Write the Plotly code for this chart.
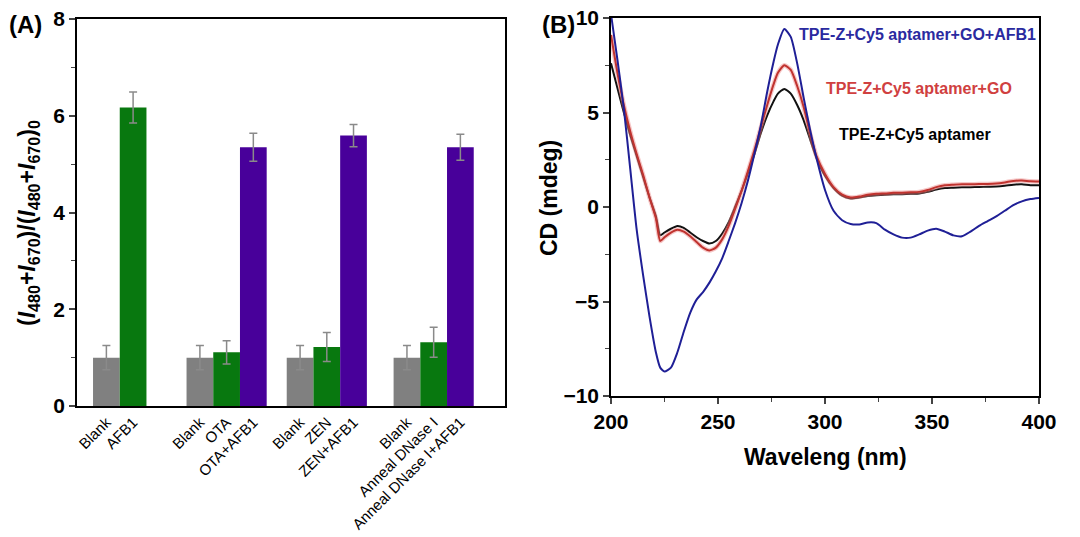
import plotly.graph_objects as go

# ---- panel A data: fluorescence ratio per sample ----
blank_labels = ["Blank", "Blank", "Blank", "Blank"]
blank_vals = [1.0, 1.0, 1.0, 1.0]
blank_err = [0.25, 0.25, 0.25, 0.25]

single_labels = ["AFB1", "OTA", "ZEN", "Anneal DNase I"]
single_vals = [6.17, 1.11, 1.22, 1.32]
single_err = [0.32, 0.24, 0.30, 0.31]

combo_labels = ["OTA+AFB1", "ZEN+AFB1", "Anneal DNase I+AFB1"]
combo_vals = [5.35, 5.59, 5.35]
combo_err = [0.29, 0.23, 0.27]

ratio_ticks = [0, 2, 4, 6, 8]

# ---- panel B data: CD spectra ----
wavelength = [200, 203, 206, 209, 212, 215, 218, 221, 223, 225, 228, 231, 234, 237,
              240, 243, 246, 249, 252, 255, 258, 261, 264, 267, 270, 273, 276, 278,
              281, 284, 287, 290, 293, 296, 300, 304, 308, 312, 316, 320, 324, 328,
              332, 336, 340, 344, 348, 352, 356, 360, 364, 368, 372, 376, 380, 384,
              388, 392, 396, 400]
cd_aptamer = [7.6, 6.3, 5.0, 3.8, 2.7, 1.6, 0.5, -0.5, -1.5, -1.35, -1.15, -1.0, -1.1, -1.35,
              -1.6, -1.8, -1.93, -1.8, -1.4, -0.8, 0.0, 0.85, 1.8, 2.8, 3.9, 4.85, 5.6, 6.0,
              6.25, 6.0, 5.4, 4.6, 3.6, 2.6, 1.65, 1.0, 0.6, 0.45, 0.5, 0.58, 0.62, 0.65,
              0.67, 0.68, 0.7, 0.72, 0.8, 0.92, 1.0, 1.02, 1.04, 1.05, 1.06, 1.07, 1.08, 1.12,
              1.18, 1.2, 1.15, 1.15]
cd_aptamer_go = [9.1, 7.1, 5.4, 4.0, 2.8, 1.7, 0.5, -0.6, -1.8, -1.6, -1.35, -1.2, -1.3, -1.55,
                 -1.85, -2.15, -2.3, -2.15, -1.7, -1.0, -0.1, 0.85, 1.9, 3.0, 4.2, 5.4, 6.5, 7.1,
                 7.5, 7.25, 6.4, 5.3, 3.9, 2.7, 1.75, 1.05, 0.65, 0.5, 0.55, 0.65, 0.7, 0.72,
                 0.75, 0.76, 0.78, 0.8, 0.9, 1.05, 1.15, 1.18, 1.2, 1.2, 1.22, 1.22, 1.24, 1.3,
                 1.38, 1.4, 1.36, 1.35]
cd_aptamer_go_afb1 = [10.2, 7.8, 5.2, 2.0, -1.2, -3.6, -5.8, -7.7, -8.5, -8.7, -8.5, -7.7, -6.6, -5.6,
                      -4.9, -4.5, -4.0, -3.4, -2.7, -1.8, -0.85, 0.2, 1.4, 2.8, 4.3, 6.1, 7.7, 8.6,
                      9.42, 9.0, 7.6, 5.8, 4.1, 2.6, 0.9, -0.2, -0.7, -0.9, -0.92, -0.82, -0.85, -1.2,
                      -1.45, -1.62, -1.62, -1.45, -1.25, -1.15, -1.3, -1.5, -1.55, -1.3, -1.0, -0.75, -0.5, -0.2,
                      0.1, 0.3, 0.42, 0.48]

# bar slots on the category axis (groups are spaced unevenly in the original)
blank_pos = [0, 3.5, 7.25, 11.25]
single_pos = [1, 4.5, 8.25, 12.25]
combo_pos = [5.5, 9.25, 13.25]

# the page body has an 8px margin, so the figure is drawn 8px in from the window corner
OFF = 8
W, H = 1080 - OFF, 537 - OFF


def px_x(x):
    return (x - OFF) / W


def px_y(y):
    return 1 - (y - OFF) / H


FONT = "Arial, Liberation Sans, sans-serif"
ERR = dict(type="data", visible=True, color="#8a8a8a", thickness=1.5, width=4)

fig = go.Figure()
for pos, vals, err, color in [
    (blank_pos, blank_vals, blank_err, "#808080"),
    (single_pos, single_vals, single_err, "#08780f"),
    (combo_pos, combo_vals, combo_err, "#48009a"),
]:
    fig.add_trace(go.Bar(x=pos, y=vals, width=1.0, marker_color=color, marker_line_width=0,
                         error_y=dict(array=err, **ERR), xaxis="x", yaxis="y", showlegend=False))

for vals, color, width in [
    (cd_aptamer, "#111111", 2),
    (cd_aptamer_go, "rgba(235,130,130,0.45)", 4.5),   # soft halo under the red curve
    (cd_aptamer_go, "#c0332f", 2),
    (cd_aptamer_go_afb1, "#1f1f96", 2),
]:
    fig.add_trace(go.Scatter(x=wavelength, y=vals, mode="lines", xaxis="x2", yaxis="y2",
                             line=dict(color=color, width=width, shape="spline", smoothing=0.6),
                             hoverinfo="skip", showlegend=False))

tick_pos = blank_pos + single_pos + combo_pos
tick_text = blank_labels + single_labels + combo_labels

axis_common = dict(showline=True, linecolor="black", linewidth=1.5, mirror=True,
                   showgrid=False, zeroline=False, automargin=False, ticklabeloverflow="allow")
tick_major = dict(ticks="outside", ticklen=6, tickwidth=1.5, tickfont=dict(size=21, weight="bold"))

fig.update_layout(
    width=W, height=H,
    margin=dict(l=0, r=0, t=0, b=0),
    paper_bgcolor="white", plot_bgcolor="white",
    font=dict(family=FONT, color="black"),
    barmode="overlay",
    xaxis=dict(domain=[px_x(77), px_x(505)], range=[-1.1, 14.92], tickvals=tick_pos, ticktext=tick_text,
               tickangle=-45, ticks="", tickfont=dict(size=15), **axis_common),
    yaxis=dict(domain=[px_y(406), px_y(19)], range=[0, 8], tickvals=ratio_ticks,
               minor=dict(dtick=1, ticks="outside", ticklen=4, tickwidth=1.2),
               **tick_major, **axis_common),
    xaxis2=dict(domain=[px_x(611), px_x(1039)], range=[200, 400], dtick=50, anchor="y2",
                minor=dict(dtick=25, ticks="outside", ticklen=4, tickwidth=1.2),
                **tick_major, **axis_common),
    yaxis2=dict(domain=[px_y(396), px_y(18)], range=[-10, 10], dtick=5, anchor="x2",
                minor=dict(dtick=2.5, ticks="outside", ticklen=4, tickwidth=1.2),
                **tick_major, **axis_common),
)

annotations = [
    dict(x=25, y=25, text="<b>(A)</b>", font=dict(size=24)),
    dict(x=558, y=25, text="<b>(B)</b>", font=dict(size=24)),
    dict(x=28, y=223, textangle=-90, font=dict(size=23),
         text="<b>(<i>I</i><sub>480</sub>+<i>I</i><sub>670</sub>)/(<i>I</i><sub>480</sub>"
              "+<i>I</i><sub>670</sub>)<sub>0</sub></b>"),
    dict(x=549, y=198, textangle=-90, text="<b>CD (mdeg)</b>", font=dict(size=23)),
    dict(x=825, y=457, text="<b>Waveleng (nm)</b>", font=dict(size=23)),
    dict(x=917, y=34, text="<b>TPE-Z+Cy5 aptamer+GO+AFB1</b>", font=dict(size=16, color="#2a2aa0")),
    dict(x=919, y=88, text="<b>TPE-Z+Cy5 aptamer+GO</b>", font=dict(size=16, color="#d04040")),
    dict(x=915, y=135, text="<b>TPE-Z+Cy5 aptamer</b>", font=dict(size=16, color="black")),
]
for a in annotations:
    fig.add_annotation(xref="paper", yref="paper", x=px_x(a["x"]), y=px_y(a["y"]),
                       text=a["text"], textangle=a.get("textangle", 0), showarrow=False,
                       xanchor="center", yanchor="middle", font=a["font"])

fig.write_html("out.html")
